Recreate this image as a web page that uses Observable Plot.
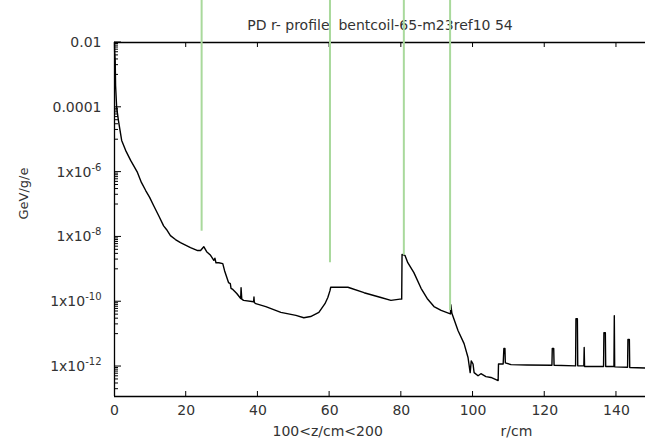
<!DOCTYPE html>
<html>
<head>
<meta charset="utf-8">
<script src="https://cdn.jsdelivr.net/npm/d3@7"></script>
<script src="https://cdn.jsdelivr.net/npm/@observablehq/plot@0.6"></script>
<style>
  html, body { margin: 0; padding: 0; background: #fff; }
</style>
</head>
<body>
<div id="chart"></div>
<script>
// ---- data ----
const title = "PD r- profile  bentcoil-65-m23ref10 54";
const xLabelLeft = "100<z/cm<200";
const xLabelRight = "r/cm";
const yLabel = "GeV/g/e";

const rValues = [
  0, 0.05, 0.2, 0.3, 0.6, 1.1, 2.0, 3.1, 4.5, 6.4, 7.5, 8.7, 9.8, 10.9, 12.3, 13.7, 14.5, 15.6, 17.0, 18.4, 21.2,
  23.2, 24.0, 24.9, 25.7, 26.8, 27.7, 28.0, 28.3, 29.1, 30.2, 30.7, 31.8, 32.3, 32.5, 33.0, 34.1, 35.2, 35.3,
  35.5, 36.0, 38.8, 38.9, 39.0, 39.4, 42.2, 46.4, 50.6, 52.8, 54.7, 57.0, 58.7, 59.5,
  60.1, 60.3, 61.2, 65.1, 69.6, 74.3, 77.1, 79.6, 80.1, 80.2, 81.0, 81.8, 83.5, 85.5,
  87.2, 89.1, 91.1, 93.3, 93.7, 93.8, 94.1, 95.8, 97.5, 98.6, 99.2, 99.5, 100.0, 100.3,
  101.4, 102.2, 103.6, 105.0, 107.0, 107.1, 108.4, 108.6, 108.9, 109.0, 110.6, 115.0,
  122.0, 122.1, 122.5, 122.6, 128.6, 128.7, 129.1, 129.2, 130.9, 131.0, 131.1, 136.4,
  136.5, 136.9, 137.0, 139.3, 139.4, 139.5, 143.1, 143.2, 143.6, 143.7, 148.1
];
const gevValues = [
  1e-2, 5e-3, 2.8e-3, 4.7e-4, 1.0e-4, 3.9e-5, 9.5e-6, 4.7e-6, 2.3e-6, 9.8e-7, 4.8e-7, 2.7e-7, 1.66e-7, 9.3e-8, 4.6e-8, 2.2e-8, 1.7e-8, 1.1e-8, 8.3e-9, 6.7e-9, 4.7e-9,
  3.8e-9, 3.8e-9, 5.0e-9, 3.5e-9, 2.7e-9, 1.9e-9, 2.2e-9, 1.6e-9, 1.6e-9, 1.5e-9, 9.1e-10, 3.9e-10, 3.6e-10, 2.6e-10, 2.4e-10, 1.8e-10, 1.26e-10, 2.7e-10,
  1.2e-10, 1.1e-10, 1.0e-10, 1.4e-10, 9.5e-11, 8.7e-11, 7.1e-11, 4.7e-11, 3.8e-11, 3.2e-11, 3.5e-11, 4.7e-11, 8.7e-11, 1.35e-10,
  2.2e-10, 2.8e-10, 2.8e-10, 2.8e-10, 1.9e-10, 1.35e-10, 1.1e-10, 1.2e-10, 1.2e-10, 2.9e-9, 2.7e-9, 1.6e-9, 7.9e-10, 2.6e-10,
  1.26e-10, 7.1e-11, 5.4e-11, 4.4e-11, 4.2e-11, 8.1e-11, 4.4e-11, 1.3e-11, 5.1e-12, 1.9e-12, 6.5e-13, 1.5e-12, 1.2e-12, 6.5e-13,
  5.2e-13, 6.0e-13, 4.9e-13, 4.6e-13, 3.7e-13, 1.2e-12, 1.2e-12, 3.6e-12, 3.6e-12, 1.3e-12, 1.15e-12, 1.12e-12,
  1.1e-12, 3.6e-12, 3.6e-12, 1.1e-12, 1.05e-12, 3.0e-11, 3.0e-11, 1.05e-12, 1.05e-12, 3.9e-12, 1.0e-12, 1.0e-12,
  1.1e-11, 1.1e-11, 1.0e-12, 1.0e-12, 3.7e-11, 9.8e-13, 9.5e-13, 6.8e-12, 6.8e-12, 9.3e-13, 9.0e-13
];

// green marker lines
const markerR = [24.3, 60.1, 80.7, 93.6];
const markerEnd = [1.5e-8, 1.6e-9, 2.7e-9, 5.4e-11];
const markerTop = 0.2;

// axes
const xDomain = [0, 148.1];
const yDomain = [1.19e-13, 1e-2];
const xTicks = [0, 20, 40, 60, 80, 100, 120, 140];
const yTickValues = [1e-2, 1e-4, 1e-6, 1e-8, 1e-10, 1e-12];
const yTickLabels = ["0.01", "0.0001", "1x10^-6", "1x10^-8", "1x10^-10", "1x10^-12"];

// ---- build ----
const data = rValues.map((r, i) => ({r, v: gevValues[i]}));
const markers = markerR.map((r, i) => ({r, end: markerEnd[i]}));

const W = 645, H = 443;
const mTop = 42, mBottom = 47, mLeft = 114, mRight = 0;

const minorTicks = [];
for (const L of yTickValues) {
  for (let k = 1; k <= 9; k++) {
    const v = L * k / 10;
    if (v >= yDomain[0] && v <= yDomain[1]) minorTicks.push(v);
  }
}
const labelOf = new Map(yTickValues.map((v, i) => [v, yTickLabels[i]]));
const innerX = xTicks.filter(d => d > xDomain[0]);

// custom render: short inward tick segments drawn with the plot's own scales
function inwardTicks(values, dim, len, where) {
  return Plot.dot(values, {
    x: dim === "x" ? (d => d) : xDomain[0],
    y: dim === "y" ? (d => d) : (where === "top" ? yDomain[1] : yDomain[0]),
    r: 0,
    render(index, scales, values2, dimensions, context, next) {
      const g = document.createElementNS("http://www.w3.org/2000/svg", "g");
      const {x, y} = scales;
      for (const i of index) {
        const v = values[i];
        const line = document.createElementNS("http://www.w3.org/2000/svg", "line");
        let x1, y1, x2, y2;
        if (dim === "x") {
          x1 = x2 = x(v);
          if (where === "top") { y1 = dimensions.marginTop; y2 = y1 + len; }
          else { y1 = dimensions.height - dimensions.marginBottom; y2 = y1 - len; }
        } else {
          y1 = y2 = y(v);
          x1 = dimensions.marginLeft; x2 = x1 + len;
        }
        line.setAttribute("x1", x1); line.setAttribute("x2", x2);
        line.setAttribute("y1", y1); line.setAttribute("y2", y2);
        line.setAttribute("stroke", "#000");
        line.setAttribute("stroke-width", "1");
        g.appendChild(line);
      }
      return g;
    }
  });
}

const chart = Plot.plot({
  width: W,
  height: H,
  marginTop: mTop,
  marginBottom: mBottom,
  marginLeft: mLeft,
  marginRight: mRight,
  style: {fontFamily: "DejaVu Sans", fontSize: "14px", color: "#333", background: "#fff"},
  x: {domain: xDomain},
  y: {type: "log", domain: yDomain},
  marks: [
    Plot.axisX({ticks: xTicks, tickSize: 0, tickPadding: 9, label: null, fontSize: 14}),
    Plot.axisY({ticks: yTickValues, tickSize: 0, tickPadding: 13, label: null, fontSize: 14,
                tickFormat: d => labelOf.get(d) ?? ""}),
    // frame (left, top, bottom)
    Plot.ruleX([xDomain[0]], {stroke: "#000", strokeWidth: 1.3}),
    Plot.ruleY([yDomain[1]], {stroke: "#000", strokeWidth: 1.3}),
    Plot.ruleY([yDomain[0]], {stroke: "#000", strokeWidth: 1.3}),
    // inward ticks
    inwardTicks(innerX, "x", 5, "bottom"),
    inwardTicks(innerX, "x", 5, "top"),
    inwardTicks(yTickValues, "y", 7, "left"),
    inwardTicks(minorTicks, "y", 4, "left"),
    // texts
    Plot.text([title], {frameAnchor: "top", dy: -22, fontSize: 14, fill: "#333"}),
    Plot.text([xLabelLeft], {frameAnchor: "bottom-left", dx: 158, dy: 39, fontSize: 14, fill: "#333"}),
    Plot.text([xLabelRight], {frameAnchor: "bottom-left", dx: 386, dy: 39, fontSize: 14, fill: "#333"}),
    Plot.text([yLabel], {frameAnchor: "left", dx: -91, rotate: -90, fontSize: 13, fill: "#333"}),
    // data
    Plot.line(data, {x: "r", y: "v", stroke: "#000", strokeWidth: 1.4}),
    Plot.ruleX(markers, {x: "r", y1: () => markerTop, y2: "end", stroke: "#a9d99c", strokeWidth: 2})
  ]
});

// superscripts for "1x10^-n" labels
chart.querySelectorAll("text").forEach(t => {
  const m = /^1x10\^(-\d+)$/.exec(t.textContent);
  if (!m) return;
  while (t.firstChild) t.removeChild(t.firstChild);
  const ns = "http://www.w3.org/2000/svg";
  const a = document.createElementNS(ns, "tspan");
  a.textContent = "1x10";
  const b = document.createElementNS(ns, "tspan");
  b.textContent = m[1];
  b.setAttribute("font-size", "10");
  b.setAttribute("dy", "-6");
  t.appendChild(a);
  t.appendChild(b);
});

document.getElementById("chart").appendChild(chart);
</script>
</body>
</html>
